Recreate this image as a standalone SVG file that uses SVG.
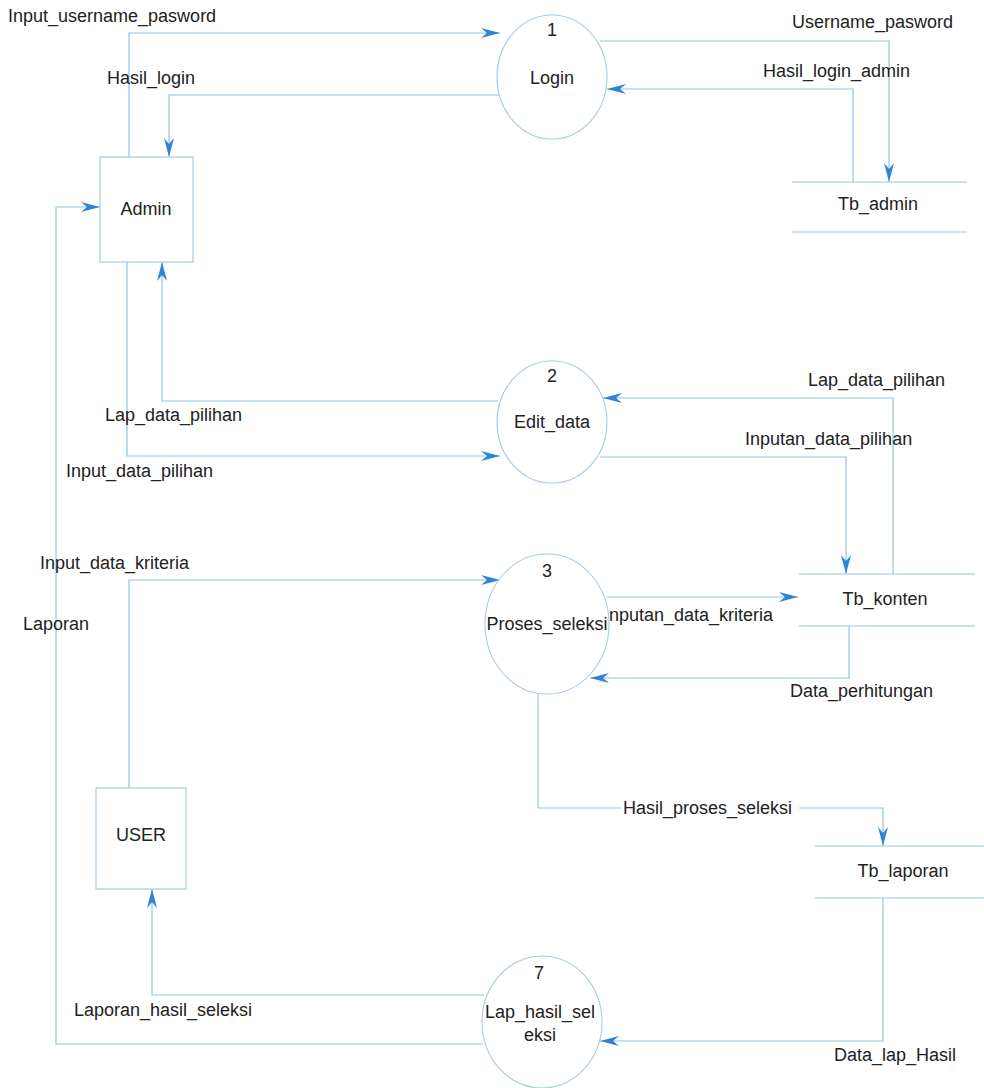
<svg xmlns="http://www.w3.org/2000/svg" width="984" height="1088" viewBox="0 0 984 1088">
  <style>
    .flow { fill: none; stroke: #8fc3e6; stroke-width: 1.2; marker-end: url(#arrow); }
    .proc { fill: #ffffff; stroke: #a9cbe0; stroke-width: 1.1; }
    .ent { fill: #ffffff; stroke: #9cc6e4; stroke-width: 1.1; }
    .store { stroke: #9cc6e4; stroke-width: 1.1; }
    text { font-family: "Liberation Sans", Arial, sans-serif; font-size: 18px; fill: #222222; }
    .c { text-anchor: middle; }
  </style>
  <defs>
    <!-- long, notched flow arrowhead -->
    <marker id="arrow" markerUnits="userSpaceOnUse" markerWidth="20" markerHeight="12" refX="19" refY="6" orient="auto">
      <path d="M0,1 L19,6 L0,11 L6,6 Z" fill="#2f83d6"/>
    </marker>
  </defs>

  <rect width="984" height="1088" fill="#ffffff"/>

  <!-- data flows -->
  <g id="connectors">
    <path class="flow" d="M129,157 V33 H500"/>
    <path class="flow" d="M499,95 H169 V157"/>
    <path class="flow" d="M600,41 H889 V182"/>
    <path class="flow" d="M853,182 V89 H607"/>
    <path class="flow" d="M893,574 V398 H603"/>
    <path class="flow" d="M600,457 H846 V574"/>
    <path class="flow" d="M498,401 H162 V262"/>
    <path class="flow" d="M127,262 V456 H500"/>
    <path class="flow" d="M483,1044 H56 V207 H100"/>
    <path class="flow" d="M129,788 V580 H500"/>
    <path class="flow" d="M607,597 H798"/>
    <path class="flow" d="M849,626 V678 H590"/>
    <path class="flow" d="M538,694 V808 H883 V846"/>
    <path class="flow" d="M883,898 V1041 H600"/>
    <path class="flow" d="M484,995 H152 V889"/>

    <text x="8" y="22">Input_username_pasword</text>
    <text x="107" y="84">Hasil_login</text>
    <text x="792" y="28">Username_pasword</text>
    <text x="763" y="77">Hasil_login_admin</text>
    <text x="808" y="386">Lap_data_pilihan</text>
    <text x="745" y="445">Inputan_data_pilihan</text>
    <text x="105" y="421">Lap_data_pilihan</text>
    <text x="66" y="477">Input_data_pilihan</text>
    <text x="23" y="630">Laporan</text>
    <text x="40" y="569">Input_data_kriteria</text>
    <text x="604" y="621">Inputan_data_kriteria</text>
    <text x="790" y="697">Data_perhitungan</text>
    <rect x="621" y="798" width="178" height="20" fill="#ffffff"/>
    <text x="623" y="814">Hasil_proses_seleksi</text>
    <text x="834" y="1061">Data_lap_Hasil</text>
    <text x="74" y="1016">Laporan_hasil_seleksi</text>
  </g>

  <!-- external entities -->
  <g id="admin">
    <rect class="ent" x="100" y="157" width="93" height="105"/>
    <text class="c" x="146" y="215">Admin</text>
  </g>
  <g id="user">
    <rect class="ent" x="96" y="788" width="90" height="101"/>
    <text class="c" x="141" y="841">USER</text>
  </g>

  <!-- processes -->
  <g id="login">
    <ellipse class="proc" cx="552" cy="77" rx="55" ry="62"/>
    <text class="c" x="552" y="36">1</text>
    <text class="c" x="552" y="84">Login</text>
  </g>
  <g id="edit-data">
    <ellipse class="proc" cx="552" cy="422" rx="55" ry="61"/>
    <text class="c" x="552" y="382">2</text>
    <text class="c" x="552" y="428">Edit_data</text>
  </g>
  <g id="proses-seleksi">
    <ellipse class="proc" cx="547" cy="624" rx="62" ry="70"/>
    <text class="c" x="547" y="577">3</text>
    <text class="c" x="547" y="630">Proses_seleksi</text>
  </g>
  <g id="lap-hasil-seleksi">
    <ellipse class="proc" cx="542" cy="1022" rx="60" ry="66"/>
    <text class="c" x="539" y="979">7</text>
    <text class="c" x="540" y="1018">Lap_hasil_sel</text>
    <text class="c" x="540" y="1041">eksi</text>
  </g>

  <!-- data stores -->
  <g id="tb-admin">
    <line class="store" x1="792" y1="182" x2="967" y2="182"/>
    <line class="store" x1="792" y1="232" x2="967" y2="232"/>
    <text class="c" x="878" y="210">Tb_admin</text>
  </g>
  <g id="tb-konten">
    <line class="store" x1="799" y1="574" x2="975" y2="574"/>
    <line class="store" x1="799" y1="626" x2="975" y2="626"/>
    <text class="c" x="885" y="605">Tb_konten</text>
  </g>
  <g id="tb-laporan">
    <line class="store" x1="815" y1="846" x2="984" y2="846"/>
    <line class="store" x1="815" y1="898" x2="984" y2="898"/>
    <text class="c" x="903" y="877">Tb_laporan</text>
  </g>
</svg>
